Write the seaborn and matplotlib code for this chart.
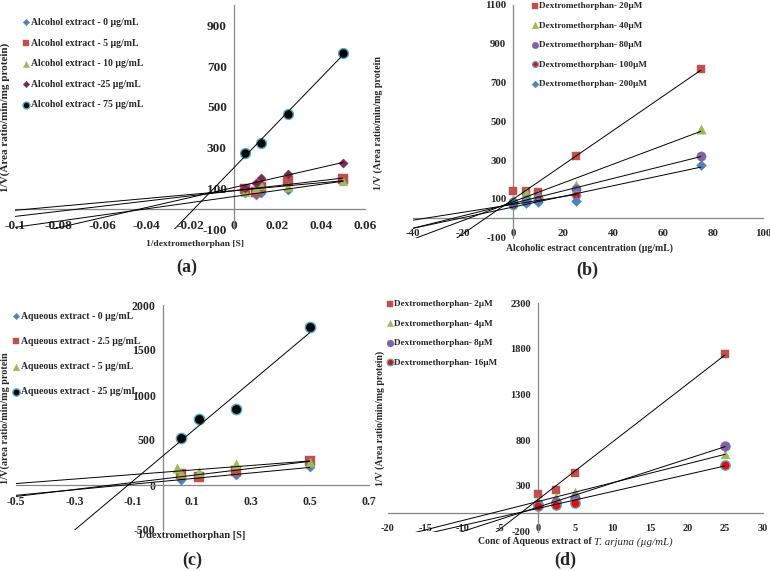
import numpy as np
import matplotlib
matplotlib.use('Agg')
import matplotlib.pyplot as plt
from matplotlib.ticker import FuncFormatter
import seaborn as sns

sns.set_style('white')
plt.rcParams['font.family'] = ['Liberation Serif', 'DejaVu Serif']
plt.rcParams['font.weight'] = 'bold'
plt.rcParams['axes.unicode_minus'] = False

# ---- panel (a): alcohol extract, 1/[dextromethorphan] ----
a_x = [0.005, 0.01, 0.0125, 0.025, 0.05]
a_0 = [76, 67, 79, 92, 138]
a_5 = [95, 84, 108, 136, 144]
a_10 = [84, 100, 116, 105, 138]
a_25 = [103, 125, 152, 170, 223]
a_75_x = [0.005, 0.0125, 0.025, 0.05]
a_75 = [275, 325, 466, 764]
a_labels = ['Alcohol extract - 0 µg/mL', 'Alcohol extract - 5 µg/mL',
            'Alcohol extract - 10 µg/mL', 'Alcohol extract -25 µg/mL',
            'Alcohol extract - 75 µg/mL']

# ---- panel (b): alcoholic extract concentration ----
b_x = [0, 5, 10, 25, 75]
b_20 = [142, 142, 137, 321, 769]
b_40 = [100, 135, 118, 171, 460]
b_80 = [86, 94, 105, 149, 321]
b_100_x = [0, 5, 10, 25]
b_100 = [68, 82, 98, 120]
b_200 = [77, 77, 86, 91, 275]
b_labels = ['Dextromethorphan- 20µM', 'Dextromethorphan- 40µM',
            'Dextromethorphan- 80µM', 'Dextromethorphan- 100µM',
            'Dextromethorphan- 200µM']

# ---- panel (c): aqueous extract, 1/[dextromethorphan] ----
c_x = [0.0625, 0.125, 0.25, 0.5]
c_0 = [55, 89, 111, 197]
c_2_5 = [118, 92, 155, 270]
c_5_x = [0.05, 0.0625, 0.125, 0.25, 0.5]
c_5 = [185, 130, 148, 233, 259]
c_25 = [526, 733, 844, 1752]
c_labels = ['Aqueous extract - 0 µg/mL', 'Aqueous extract - 2.5 µg/mL',
            'Aqueous extract - 5 µg/mL', 'Aqueous extract - 25 µg/mL']

# ---- panel (d): aqueous extract concentration ----
d_x = [0, 2.5, 5, 25]
d_2 = [211, 258, 440, 1745]
d_4 = [130, 175, 237, 646]
d_8 = [100, 125, 168, 737]
d_16 = [83, 95, 115, 526]
d_labels = ['Dextromethorphan- 2µM', 'Dextromethorphan- 4µM',
            'Dextromethorphan- 8µM', 'Dextromethorphan- 16µM']

BLUE, RED, GREEN, PURPLE = '#4F81BD', '#C0504D', '#9BBB59', '#8064A2'
CYAN, MAROON = '#4BACC6', '#772C4F'
AXIS = '#868686'

W, H = 770, 571
fig = plt.figure(figsize=(W / 100, H / 100), dpi=100)


def px_axes(x0, x1, y_top, y_bot):
    return fig.add_axes([x0 / W, 1 - y_bot / H, (x1 - x0) / W, (y_bot - y_top) / H])


def draw(ax, series, styles, xlim, ylim, xticks, yticks, tsize):
    for (xs, ys, lab), (mk, fc, ec, s) in zip(series, styles):
        sns.scatterplot(x=xs, y=ys, marker=mk, color=fc, edgecolor=ec, s=s,
                        linewidth=1.0 if ec != fc else 0.3, ax=ax, label=lab, zorder=3)
        k, b = np.polyfit(xs, ys, 1)
        lx = np.array([xlim[0], max(xs)])
        ax.plot(lx, k * lx + b, color='black', lw=0.7, zorder=4)
    ax.set_xlim(xlim)
    ax.set_ylim(ylim)
    for side in ['top', 'right']:
        ax.spines[side].set_visible(False)
    for side in ['left', 'bottom']:
        ax.spines[side].set_position(('data', 0))
        ax.spines[side].set_color(AXIS)
        ax.spines[side].set_linewidth(0.9)
    ax.set_xticks(xticks)
    ax.set_yticks(yticks)
    fmt = FuncFormatter(lambda v, p: f'{round(v, 4):g}')
    ax.xaxis.set_major_formatter(fmt)
    ax.yaxis.set_major_formatter(fmt)
    ax.tick_params(axis='both', direction='out', length=3, color=AXIS, labelsize=tsize)
    ax.tick_params(axis='x', pad=5)
    ax.tick_params(axis='y', pad=2)
    ax.set_xlabel('')
    ax.set_ylabel('')
    ax.patch.set_alpha(0)


def legend(ax, fx, fy, spacing, size):
    ax.legend(loc='upper left', bbox_to_anchor=(fx / W, 1 - fy / H),
              bbox_transform=fig.transFigure, frameon=False, fontsize=size,
              labelspacing=spacing, handletextpad=0.1, handlelength=0.8,
              borderpad=0, borderaxespad=0, markerscale=0.7)


# (a)
ax_a = px_axes(15, 365, 5.2, 229)
draw(ax_a,
     [(a_x, a_0, a_labels[0]), (a_x, a_5, a_labels[1]), (a_x, a_10, a_labels[2]),
      (a_x, a_25, a_labels[3]), (a_75_x, a_75, a_labels[4])],
     [('D', BLUE, BLUE, 22), ('s', RED, RED, 45), ('^', GREEN, GREEN, 40),
      ('D', MAROON, MAROON, 22), ('o', 'black', CYAN, 50)],
     (-0.1, 0.06), (-100, 1000), np.arange(-0.1, 0.061, 0.02), np.arange(-100, 901, 200), 9.5)
legend(ax_a, 22, 18, 1.19, 7)

# (b)
ax_b = px_axes(413.3, 763.3, 4.7, 237.7)
draw(ax_b,
     [(b_x, b_20, b_labels[0]), (b_x, b_40, b_labels[1]), (b_x, b_80, b_labels[2]),
      (b_100_x, b_100, b_labels[3]), (b_x, b_200, b_labels[4])],
     [('s', RED, RED, 35), ('^', GREEN, GREEN, 45), ('o', PURPLE, PURPLE, 45),
      ('o', 'red', CYAN, 35), ('D', BLUE, BLUE, 25)],
     (-40, 100), (-100, 1100), np.arange(-40, 101, 20), np.arange(-100, 1101, 200), 7.8)
legend(ax_b, 531, 2, 1.2, 6.6)

# (c)
ax_c = px_axes(15.6, 368.5, 305, 530)
draw(ax_c,
     [(c_x, c_0, c_labels[0]), (c_x, c_2_5, c_labels[1]), (c_5_x, c_5, c_labels[2]),
      (c_x, c_25, c_labels[3])],
     [('D', BLUE, BLUE, 22), ('s', RED, RED, 50), ('^', GREEN, GREEN, 45),
      ('o', 'black', CYAN, 55)],
     (-0.5, 0.7), (-500, 2000), np.arange(-0.5, 0.71, 0.2), np.arange(-500, 2001, 500), 8.5)
legend(ax_c, 12, 312, 1.65, 7)

# (d)
ax_d = px_axes(387.7, 762.7, 303.2, 531.6)
draw(ax_d,
     [(d_x, d_2, d_labels[0]), (d_x, d_4, d_labels[1]), (d_x, d_8, d_labels[2]),
      (d_x, d_16, d_labels[3])],
     [('s', RED, RED, 35), ('^', GREEN, GREEN, 40), ('o', PURPLE, PURPLE, 50),
      ('o', 'red', CYAN, 45)],
     (-20, 30), (-200, 2300), np.arange(-20, 31, 5), np.arange(-200, 2301, 500), 7.5)
legend(ax_d, 386, 300, 1.2, 6.6)

# axis titles and panel letters
def label(x, y, s, size, rot=0):
    fig.text(x / W, 1 - y / H, s, rotation=rot, ha='center', va='center',
             fontsize=size, fontweight='bold')


label(5, 117, '1/V(Area ratio/min/mg protein)', 8, 90)
label(378, 123, '1/V (Area ratio/min/mg protein', 7.2, 90)
label(5, 418, '1/V(area ratio/min/mg protein', 7.3, 90)
label(380, 418, '1/V (Area ratio/min/mg protein)', 7.1, 90)

label(195, 244, '1/dextromethorphan [S]', 6.8)
label(589, 248, 'Alcoholic estract concentration (µg/mL)', 7)
label(192, 536, '1/dextromethorphan [S]', 7.6)
fig.text(594 / W, 1 - 542 / H, 'Conc of Aqueous extract of ', ha='right', va='center',
         fontsize=7, fontweight='bold')
fig.text(594 / W, 1 - 542 / H, 'T. arjuna (µg/mL)', ha='left', va='center',
         fontsize=7.8, fontweight='normal', fontstyle='italic')

for s, x, y in [('(a)', 187, 267), ('(b)', 587, 270), ('(c)', 192, 560), ('(d)', 565, 560)]:
    label(x, y, s, 13)

fig.savefig('out.png', dpi=100)
